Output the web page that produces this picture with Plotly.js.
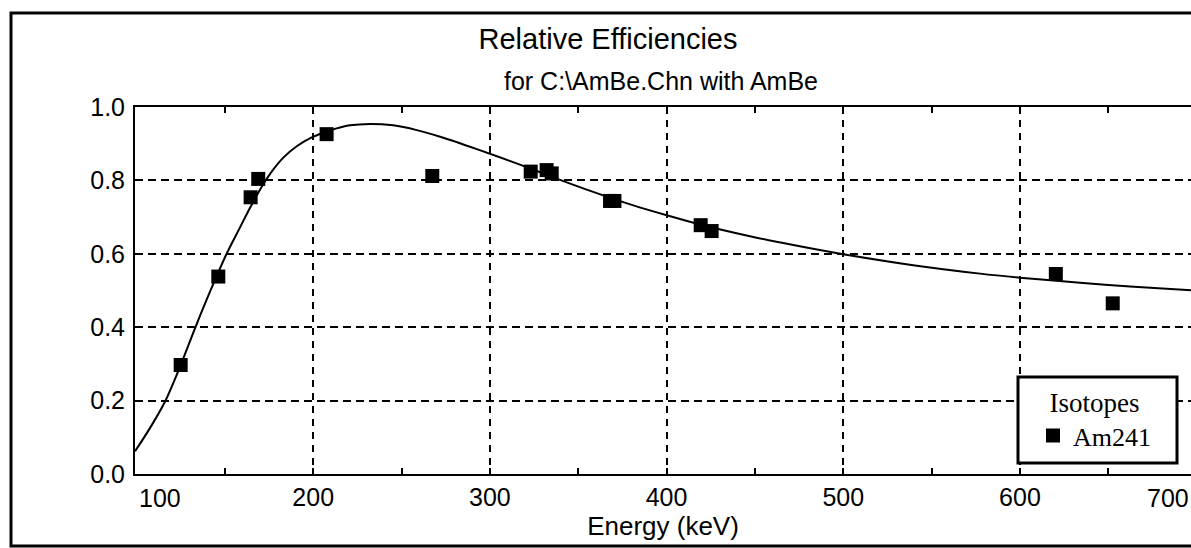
<!DOCTYPE html>
<html>
<head>
<meta charset="utf-8">
<script src="https://cdn.plot.ly/plotly-3.0.1.min.js"></script>
<style>
  html, body { margin: 0; padding: 0; background: #fff; }
  #chart { width: 1191px; height: 548px; }
</style>
</head>
<body>
<div id="chart"></div>
<script>
// Measured isotope points (energy keV, relative efficiency)
const isotopeName = "Am241";
const isotopeEnergy = [125, 146.3, 164.6, 168.9, 207.6, 267.4, 323.1, 332.1, 335, 368, 370.5, 419.3, 425.5, 620.3, 652.5];
const isotopeEff    = [0.297, 0.538, 0.754, 0.804, 0.926, 0.812, 0.824, 0.828, 0.819, 0.744, 0.744, 0.678, 0.662, 0.545, 0.465];

// Fitted efficiency curve
const curveEnergy = [99.2, 107.6, 116.1, 124.6, 133.1, 141.6, 151, 158.6, 164.2, 171.8, 175.6, 183.1, 190.7, 199.2, 209.5, 220.8, 232.1, 245.3, 258.6, 271.8, 293.4, 317, 337.8, 354.8, 381.2, 400.1, 418.9, 447.2, 471.7, 500, 539.6, 577.4, 600, 634, 662.3, 696.8];
const curveEff    = [0.062, 0.125, 0.197, 0.292, 0.397, 0.497, 0.600, 0.672, 0.725, 0.790, 0.818, 0.862, 0.893, 0.917, 0.936, 0.950, 0.954, 0.950, 0.937, 0.919, 0.884, 0.843, 0.805, 0.775, 0.732, 0.705, 0.680, 0.648, 0.624, 0.599, 0.569, 0.546, 0.535, 0.521, 0.511, 0.501];

// Axis ticks
const xRange      = [99.15, 696.8];
const xGridTicks  = [200, 300, 400, 500, 600];
const xGridLabels = ["200", "300", "400", "500", "600"];
const xEdgeTicks  = [100, 700];
const xEdgeLabels = ["100", "700"];
const xMinorTicks = [150, 250, 350, 450, 550, 650];
const yTicks      = [0, 0.2, 0.4, 0.6, 0.8, 1.0];
const yLabels     = ["0.0", "0.2", "0.4", "0.6", "0.8", "1.0"];

const titleText    = "Relative Efficiencies";
const subtitleText = "for C:\\AmBe.Chn with AmBe";
const xTitleText   = "Energy (keV)";
const legendTitle  = "Isotopes";

const sans  = "Liberation Sans, Arial, sans-serif";
const serif = "Liberation Serif, Times New Roman, serif";

// position of a data value on the x axis as a fraction of the plot width (kept on the page)
const xFrac = v => Math.min(1, (v - xRange[0]) / (xRange[1] - xRange[0]));
// pixel -> paper helpers for the frame and legend box
const px = p => (p - 135) / 1056;
const py = p => (474 - p) / 367;

const traces = [
  {
    x: curveEnergy, y: curveEff, type: "scatter", mode: "lines",
    line: { color: "#000", width: 2, shape: "spline", smoothing: 0.8 },
    showlegend: false, hoverinfo: "skip"
  },
  {
    x: isotopeEnergy, y: isotopeEff, type: "scatter", mode: "markers",
    name: isotopeName,
    marker: { symbol: "square", size: 14, color: "#000" }
  },
  {
    // empty trace that carries the minor-tick axis
    x: [], y: [], type: "scatter", mode: "markers", xaxis: "x2",
    showlegend: false, hoverinfo: "skip"
  }
];

const layout = {
  width: 1191, height: 548,
  margin: { l: 135, r: 0, t: 107, b: 74, pad: 0 },
  paper_bgcolor: "#fff", plot_bgcolor: "#fff",
  font: { family: sans, size: 25, color: "#000" },
  title: {
    text: titleText,
    font: { family: sans, size: 29, color: "#000" },
    xref: "paper", x: px(608), xanchor: "center",
    yref: "container", y: 1 - 39 / 548, yanchor: "middle"
  },
  xaxis: {
    range: xRange,
    tickmode: "array", tickvals: xGridTicks, ticktext: xGridLabels,
    ticks: "inside", ticklen: 6, tickwidth: 2, tickcolor: "#000",
    showgrid: true, gridcolor: "#000", gridwidth: 2, griddash: "7px,6px",
    showline: true, linecolor: "#000", linewidth: 2, mirror: "ticks",
    zeroline: false,
    tickfont: { family: sans, size: 25, color: "#000" },
    title: { text: xTitleText, font: { family: sans, size: 26, color: "#000" }, standoff: 0 },
    fixedrange: true
  },
  xaxis2: {
    overlaying: "x", anchor: "y", side: "bottom",
    range: xRange,
    tickmode: "array", tickvals: xMinorTicks, showticklabels: false,
    ticks: "inside", ticklen: 6, tickwidth: 2, tickcolor: "#000",
    showgrid: false, showline: false, zeroline: false, mirror: "ticks",
    fixedrange: true
  },
  yaxis: {
    range: [0, 1],
    tickmode: "array", tickvals: yTicks, ticktext: yLabels,
    ticks: "inside", ticklen: 6, tickwidth: 2, tickcolor: "#000",
    ticklabelstandoff: 3,
    showgrid: true, gridcolor: "#000", gridwidth: 2, griddash: "8px,5px",
    showline: true, linecolor: "#000", linewidth: 2, mirror: false,
    zeroline: false,
    tickfont: { family: sans, size: 25, color: "#000" },
    fixedrange: true
  },
  legend: {
    title: { text: legendTitle, side: "top center", font: { family: serif, size: 27, color: "#000" } },
    font: { family: serif, size: 26, color: "#000" },
    x: px(1033), xanchor: "left",
    y: py(377), yanchor: "top",
    bgcolor: "rgba(0,0,0,0)", borderwidth: 0,
    itemwidth: 30
  },
  shapes: [
    {
      type: "rect", xref: "paper", yref: "paper",
      x0: px(11), x1: px(1205), y0: py(546), y1: py(13),
      line: { color: "#000", width: 3 }, fillcolor: "rgba(0,0,0,0)", layer: "below"
    },
    {
      type: "rect", xref: "paper", yref: "paper",
      x0: px(1018), x1: px(1177), y0: py(463), y1: py(377),
      line: { color: "#000", width: 3 }, fillcolor: "#fff", layer: "above"
    }
  ],
  annotations: [
    {
      text: subtitleText, xref: "paper", yref: "paper",
      x: px(661), y: py(81.5), xanchor: "center", yanchor: "middle",
      showarrow: false, font: { family: sans, size: 25, color: "#000" }
    },
    {
      text: xEdgeLabels[0], xref: "paper", yref: "paper", x: xFrac(xEdgeTicks[0]), y: 0,
      xanchor: "left", yanchor: "top", yshift: -8, showarrow: false,
      font: { family: sans, size: 25, color: "#000" }
    },
    {
      text: xEdgeLabels[1], xref: "paper", yref: "paper", x: xFrac(xEdgeTicks[1]), y: 0,
      xanchor: "right", yanchor: "top", yshift: -8, showarrow: false,
      font: { family: sans, size: 25, color: "#000" }
    }
  ]
};

Plotly.newPlot("chart", traces, layout, { displayModeBar: false, staticPlot: true });
</script>
</body>
</html>
